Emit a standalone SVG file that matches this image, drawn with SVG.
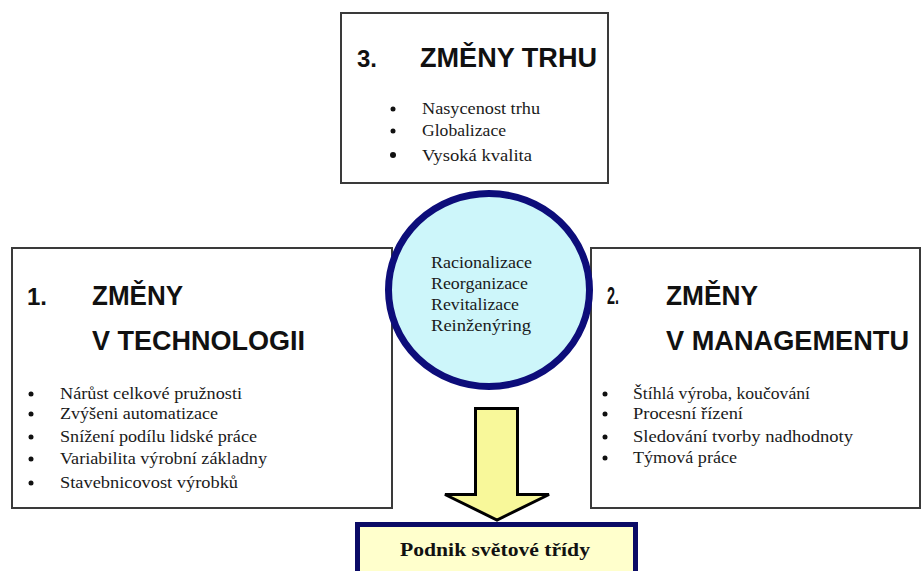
<svg xmlns="http://www.w3.org/2000/svg" width="923" height="571" viewBox="0 0 923 571">
  <style>
    .box { fill: #ffffff; stroke: #3a3a3a; stroke-width: 2; }
    .head { font-family: "Liberation Sans", Arial, sans-serif; font-weight: bold; font-size: 27px; fill: #111; }
    .num { font-family: "Liberation Sans", Arial, sans-serif; font-weight: bold; font-size: 24px; fill: #111; }
    .item { font-family: "Liberation Serif", "Times New Roman", serif; font-size: 16px; fill: #1a1a1a; }
    .dot { fill: #111; }
    .hub { fill: #cdf6fa; stroke: #0d0d7a; stroke-width: 7; }
    .arrow { fill: #f8f89a; stroke: #000; stroke-width: 3; stroke-linejoin: miter; }
    .result { fill: #ffffcc; stroke: #0b0b66; stroke-width: 5; }
    .result-text { font-family: "Liberation Serif", "Times New Roman", serif; font-weight: bold; font-size: 18px; fill: #111; }
  </style>

  <rect width="923" height="571" fill="#ffffff"/>

  <!-- 3. market changes -->
  <g id="node-market">
    <rect class="box" x="341" y="13" width="267" height="170"/>
    <text class="num" x="357" y="67" font-size="27" textLength="20" lengthAdjust="spacingAndGlyphs">3.</text>
    <text class="head" x="420" y="67" textLength="177" lengthAdjust="spacingAndGlyphs">ZMĚNY TRHU</text>
    <circle class="dot" cx="393" cy="109" r="2.5"/>
    <circle class="dot" cx="393" cy="131" r="2.5"/>
    <circle class="dot" cx="393" cy="155" r="3"/>
    <text class="item" x="422" y="114" textLength="118" lengthAdjust="spacingAndGlyphs">Nasycenost trhu</text>
    <text class="item" x="422" y="136" textLength="84" lengthAdjust="spacingAndGlyphs">Globalizace</text>
    <text class="item" x="422" y="161" textLength="110" lengthAdjust="spacingAndGlyphs">Vysoká kvalita</text>
  </g>

  <!-- 1. technology changes -->
  <g id="node-technology">
    <rect class="box" x="12" y="248" width="380" height="260"/>
    <text class="num" x="27" y="305" font-size="26" textLength="20" lengthAdjust="spacingAndGlyphs">1.</text>
    <text class="head" x="92" y="305" textLength="91" lengthAdjust="spacingAndGlyphs">ZMĚNY</text>
    <text class="head" x="92" y="350" textLength="213" lengthAdjust="spacingAndGlyphs">V TECHNOLOGII</text>
    <circle class="dot" cx="31" cy="394" r="2.5"/>
    <circle class="dot" cx="31" cy="414" r="2.5"/>
    <circle class="dot" cx="31" cy="437" r="2.5"/>
    <circle class="dot" cx="31" cy="459" r="2.5"/>
    <circle class="dot" cx="31" cy="483" r="2.5"/>
    <text class="item" x="60" y="399" textLength="182" lengthAdjust="spacingAndGlyphs">Nárůst celkové pružnosti</text>
    <text class="item" x="60" y="419" textLength="158" lengthAdjust="spacingAndGlyphs">Zvýšeni automatizace</text>
    <text class="item" x="60" y="442" textLength="197" lengthAdjust="spacingAndGlyphs">Snížení podílu lidské práce</text>
    <text class="item" x="60" y="464" textLength="207" lengthAdjust="spacingAndGlyphs">Variabilita výrobní základny</text>
    <text class="item" x="60" y="488" textLength="178" lengthAdjust="spacingAndGlyphs">Stavebnicovost výrobků</text>
  </g>

  <!-- 2. management changes -->
  <g id="node-management">
    <rect class="box" x="591" y="248" width="329" height="260"/>
    <text class="num" x="607" y="304" font-size="16" textLength="12" lengthAdjust="spacingAndGlyphs">2.</text>
    <text class="head" x="666" y="305" textLength="92" lengthAdjust="spacingAndGlyphs">ZMĚNY</text>
    <text class="head" x="666" y="350" textLength="243" lengthAdjust="spacingAndGlyphs">V MANAGEMENTU</text>
    <circle class="dot" cx="605" cy="394" r="2.5"/>
    <circle class="dot" cx="605" cy="414" r="2.5"/>
    <circle class="dot" cx="605" cy="437" r="2.5"/>
    <circle class="dot" cx="605" cy="458" r="2.5"/>
    <text class="item" x="633" y="399" textLength="177" lengthAdjust="spacingAndGlyphs">Štíhlá výroba, koučování</text>
    <text class="item" x="633" y="419" textLength="110" lengthAdjust="spacingAndGlyphs">Procesní řízení</text>
    <text class="item" x="633" y="442" textLength="220" lengthAdjust="spacingAndGlyphs">Sledování tvorby nadhodnoty</text>
    <text class="item" x="633" y="463" textLength="104" lengthAdjust="spacingAndGlyphs">Týmová práce</text>
  </g>

  <!-- central hub -->
  <g id="node-hub">
    <ellipse class="hub" cx="489" cy="290" rx="100.5" ry="96.5"/>
    <text class="item" x="431" y="268" textLength="101" lengthAdjust="spacingAndGlyphs">Racionalizace</text>
    <text class="item" x="431" y="289" textLength="97" lengthAdjust="spacingAndGlyphs">Reorganizace</text>
    <text class="item" x="431" y="310" textLength="88" lengthAdjust="spacingAndGlyphs">Revitalizace</text>
    <text class="item" x="431" y="331" textLength="100" lengthAdjust="spacingAndGlyphs">Reinženýring</text>
  </g>

  <!-- block arrow down to the result -->
  <g id="connectors">
    <path class="arrow" d="M475.5 408.5 H517.5 V494.5 H549 L497 520 L445 494.5 H475.5 Z"/>
  </g>

  <!-- result -->
  <g id="node-result">
    <rect class="result" x="357.5" y="524.5" width="278" height="60"/>
    <text class="result-text" x="400" y="556" textLength="190" lengthAdjust="spacingAndGlyphs">Podnik světové třídy</text>
  </g>
</svg>
